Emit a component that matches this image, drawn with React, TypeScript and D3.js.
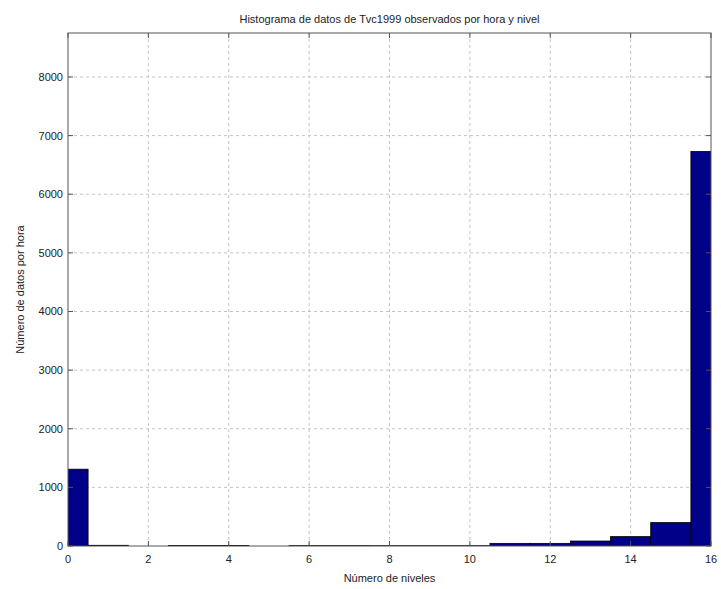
import * as d3 from "d3";

// histogram bins (centers) and counts
const bins = [0, 1, 2, 3, 4, 5, 6, 7, 8, 9, 10, 11, 12, 13, 14, 15, 16];
const counts = [1310, 12, 0, 8, 8, 0, 6, 6, 5, 5, 5, 45, 45, 85, 160, 400, 6730];
const xTicks = [0, 2, 4, 6, 8, 10, 12, 14, 16];
const yTicks = [0, 1000, 2000, 3000, 4000, 5000, 6000, 7000, 8000];

const title = "Histograma de datos de Tvc1999 observados por hora y nivel";
const xLabel = "Número de niveles";
const yLabel = "Número de datos por hora";

const App = () => {
  const width = 721;
  const height = 589;
  const m = { left: 68, right: 10, top: 33, bottom: 43 };
  const x = d3.scaleLinear().domain([0, 16]).range([m.left, width - m.right]);
  const y = d3.scaleLinear().domain([0, 8750]).range([height - m.bottom, m.top]);
  const font = "'Liberation Sans', Arial, Helvetica, sans-serif";
  const x0 = x(0), x1 = x(16), y0 = y(0), y1 = y(8750);

  return (
    <svg width={width} height={height} style={{ position: "absolute", left: 0, top: 0, background: "#fff" }} fontFamily={font}>
      <defs>
        <clipPath id="plot">
          <rect x={x0} y={y1} width={x1 - x0} height={y0 - y1} />
        </clipPath>
      </defs>
      <rect x={x0} y={y1} width={x1 - x0} height={y0 - y1} fill="#fff" />
      {/* grid */}
      {xTicks.slice(1, -1).map(t => (
        <line key={"gx" + t} x1={x(t)} x2={x(t)} y1={y1} y2={y0} stroke="#c4c4c4" strokeDasharray="3,3" />
      ))}
      {yTicks.slice(1).map(t => (
        <line key={"gy" + t} x1={x0} x2={x1} y1={y(t)} y2={y(t)} stroke="#c4c4c4" strokeDasharray="3,3" />
      ))}
      {/* bars */}
      <g clipPath="url(#plot)">
        {bins.map((b, i) => (
          <rect key={b} x={x(b - 0.5)} y={y(counts[i])} width={x(b + 0.5) - x(b - 0.5)}
            height={y0 - y(counts[i])} fill="#000088" stroke="#000" strokeWidth={0.8} />
        ))}
      </g>
      {/* axes box */}
      <rect x={x0} y={y1} width={x1 - x0} height={y0 - y1} fill="none" stroke="#555" strokeWidth={1} />
      {xTicks.map(t => (
        <g key={"tx" + t}>
          <line x1={x(t)} x2={x(t)} y1={y0} y2={y0 - 5} stroke="#555" />
          <line x1={x(t)} x2={x(t)} y1={y1} y2={y1 + 5} stroke="#555" />
          <text x={x(t)} y={y0 + 17} textAnchor="middle" fontSize={11} fill="#222">{t}</text>
        </g>
      ))}
      {yTicks.map(t => (
        <g key={"ty" + t}>
          <line x1={x0} x2={x0 + 5} y1={y(t)} y2={y(t)} stroke="#555" />
          <line x1={x1} x2={x1 - 5} y1={y(t)} y2={y(t)} stroke="#555" />
          <text x={x0 - 5} y={y(t) + 4} textAnchor="end" fontSize={11} fill="#222">{t}</text>
        </g>
      ))}
      <text x={(x0 + x1) / 2} y={23} textAnchor="middle" fontSize={11} fill="#222">{title}</text>
      <text x={(x0 + x1) / 2} y={582} textAnchor="middle" fontSize={11} fill="#222">{xLabel}</text>
      <text transform={`translate(24,${(y0 + y1) / 2}) rotate(-90)`} textAnchor="middle" fontSize={11} fill="#222">{yLabel}</text>
    </svg>
  );
};

export default App;
